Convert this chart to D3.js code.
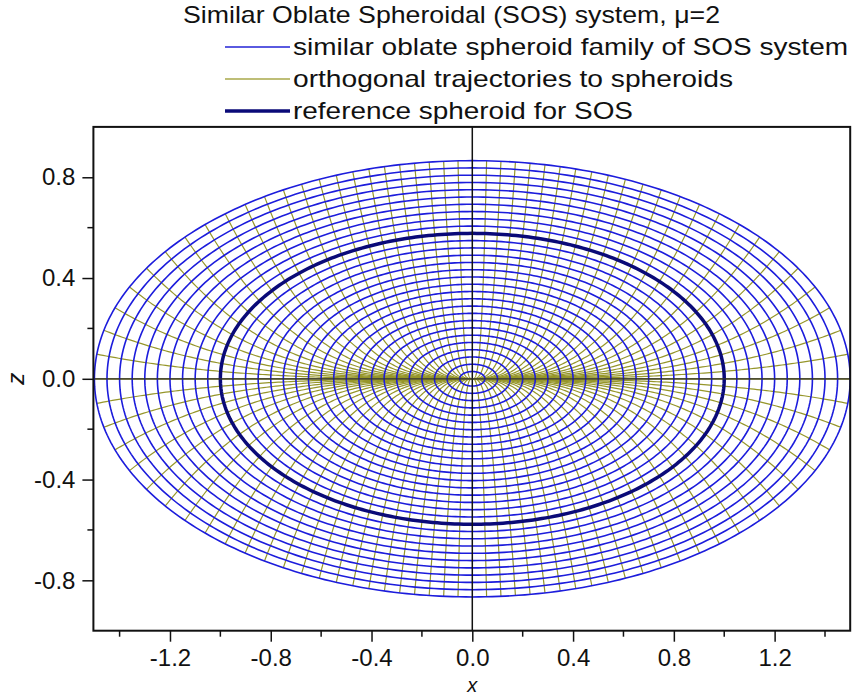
<!DOCTYPE html>
<html>
<head>
<meta charset="utf-8">
<script src="https://cdn.jsdelivr.net/npm/d3@7"></script>
<style>
  body { margin: 0; background: #fff; }
  text { font-family: "Liberation Sans", Arial, sans-serif; fill: #111; }
</style>
</head>
<body>
<div id="vis"></div>
<script>
// SOS system parameter
var mu = 2;

// semi-axes (in x) of the similar oblate spheroids
var spheroidQ = [0.05, 0.10, 0.15, 0.20, 0.25, 0.30, 0.35, 0.40, 0.45, 0.50,
                 0.55, 0.60, 0.65, 0.70, 0.75, 0.80, 0.85, 0.90, 0.95, 1.00,
                 1.05, 1.10, 1.15, 1.20, 1.25, 1.30, 1.35, 1.40, 1.45, 1.50];
var referenceQ = 1.0;

// polar angle (deg) where each orthogonal trajectory meets the outer spheroid
var trajAngles = [0, 3.75, 7.5, 11.25, 15, 18.75, 22.5, 26.25, 30, 33.75, 37.5, 41.25,
                  45, 48.75, 52.5, 56.25, 60, 63.75, 67.5, 71.25, 75, 78.75, 82.5, 86.25];

var xTicks = [-1.2, -0.8, -0.4, 0.0, 0.4, 0.8, 1.2];
var xMinor = [-1.4, -1.0, -0.6, -0.2, 0.2, 0.6, 1.0, 1.4];
var zTicks = [-0.8, -0.4, 0.0, 0.4, 0.8];
var zMinor = [-0.6, -0.2, 0.2, 0.6];

var titleText = "Similar Oblate Spheroidal (SOS) system, \u03bc=2";
var legendItems = [
  {label: "similar oblate spheroid family of SOS system", color: "#2323d6", w: 1.5, len: 555},
  {label: "orthogonal trajectories to spheroids", color: "#a8a84a", w: 1.5, len: 440},
  {label: "reference spheroid for SOS", color: "#0a0a78", w: 3.5, len: 340}
];

var W = 854, H = 698;
var x = d3.scaleLinear().domain([-1.5, 1.5]).range([94.4, 850.2]);
var z = d3.scaleLinear().domain([-1, 1]).range([630.7, 126.9]);

var svg = d3.select("#vis").append("svg")
    .attr("width", W).attr("height", H);

var k = Math.sqrt(1 + mu); // z semi-axis = q / k

var line = d3.line().x(function(d) { return x(d[0]); }).y(function(d) { return z(d[1]); });

function ellipsePts(q) {
  var pts = [];
  for (var i = 0; i <= 360; i++) {
    var t = i * Math.PI / 180;
    pts.push([q * Math.cos(t), q / k * Math.sin(t)]);
  }
  return pts;
}

// orthogonal trajectories: z = C x^(1+mu), from origin to the outer spheroid
var qMax = d3.max(spheroidQ);
var trajPaths = [];
trajAngles.forEach(function(a) {
  var th = a * Math.PI / 180;
  var r = qMax / Math.sqrt(Math.cos(th) * Math.cos(th) + (1 + mu) * Math.sin(th) * Math.sin(th));
  var x0 = r * Math.cos(th), z0 = r * Math.sin(th);
  var C = z0 / Math.pow(x0, 1 + mu);
  [[1, 1], [-1, 1], [1, -1], [-1, -1]].forEach(function(s) {
    var pts = [];
    for (var i = 0; i <= 120; i++) {
      var xx = x0 * i / 120;
      pts.push([s[0] * xx, s[1] * C * Math.pow(xx, 1 + mu)]);
    }
    trajPaths.push(pts);
  });
});

var plot = svg.append("g");

plot.selectAll(".traj").data(trajPaths).enter().append("path")
    .attr("class", "traj")
    .attr("d", line)
    .attr("fill", "none")
    .attr("stroke", "#96962a")
    .attr("stroke-width", 1.2);

plot.selectAll(".sph").data(spheroidQ.filter(function(q) { return q != referenceQ; }))
  .enter().append("path")
    .attr("class", "sph")
    .attr("d", function(q) { return line(ellipsePts(q)); })
    .attr("fill", "none")
    .attr("stroke", "#1c1cdc")
    .attr("stroke-width", 1.6);

plot.append("path")
    .attr("d", line(ellipsePts(referenceQ)))
    .attr("fill", "none")
    .attr("stroke", "#0a0a78")
    .attr("stroke-width", 3.5);

// zero lines
svg.append("line").attr("x1", x(0)).attr("x2", x(0)).attr("y1", z(1)).attr("y2", z(-1))
    .attr("stroke", "#111").attr("stroke-width", 1.5);
svg.append("line").attr("x1", x(-1.5)).attr("x2", x(1.5)).attr("y1", z(0)).attr("y2", z(0))
    .attr("stroke", "#333").attr("stroke-width", 1.2);

// frame
svg.append("rect")
    .attr("x", x(-1.5) - 1).attr("y", z(1))
    .attr("width", x(1.5) - x(-1.5) + 1).attr("height", z(-1) - z(1))
    .attr("fill", "none").attr("stroke", "#111").attr("stroke-width", 2);

var fmt = function(d) { return d3.format(".1f")(d).replace("\u2212", "-"); };

// axes
var xAxis = d3.axisBottom(x).tickValues(xTicks).tickSize(11).tickSizeOuter(0).tickFormat(fmt);
var gx = svg.append("g").attr("transform", "translate(0," + z(-1) + ")").call(xAxis);
gx.attr("font-size", null).attr("font-family", null);
gx.select(".domain").remove();
gx.selectAll("line").attr("stroke", "#111").attr("stroke-width", 1.5);
gx.selectAll("text").style("font-size", "24px").attr("dy", "0.9em").attr("fill", "#111");
gx.selectAll(".minor").data(xMinor).enter().append("line")
    .attr("x1", function(d) { return x(d); }).attr("x2", function(d) { return x(d); })
    .attr("y1", 0).attr("y2", 6).attr("stroke", "#111").attr("stroke-width", 1.5);

var zAxis = d3.axisLeft(z).tickValues(zTicks).tickSize(11).tickSizeOuter(0).tickFormat(fmt);
var gz = svg.append("g").attr("transform", "translate(" + (x(-1.5) - 1) + ",0)").call(zAxis);
gz.attr("font-size", null).attr("font-family", null);
gz.select(".domain").remove();
gz.selectAll("line").attr("stroke", "#111").attr("stroke-width", 1.5);
gz.selectAll("text").style("font-size", "24px").attr("x", -18).attr("fill", "#111");
gz.selectAll(".minor").data(zMinor).enter().append("line")
    .attr("y1", function(d) { return z(d); }).attr("y2", function(d) { return z(d); })
    .attr("x1", 0).attr("x2", -6).attr("stroke", "#111").attr("stroke-width", 1.5);

// axis titles
svg.append("text").attr("x", x(0)).attr("y", 692).attr("text-anchor", "middle")
    .style("font-size", "20px").attr("font-style", "italic").text("x");
svg.append("text").attr("transform", "translate(24," + z(0) + ") rotate(-90)")
    .attr("text-anchor", "middle").style("font-size", "24px").attr("font-style", "italic").text("z");

// title and legend
svg.append("text").attr("x", 183).attr("y", 23).style("font-size", "24px")
    .attr("textLength", 537).attr("lengthAdjust", "spacingAndGlyphs").text(titleText);

var lg = svg.selectAll(".lg").data(legendItems).enter().append("g")
    .attr("transform", function(d, i) { return "translate(0," + (47 + i * 32) + ")"; });
lg.append("line").attr("x1", 225).attr("x2", 290).attr("y1", 0).attr("y2", 0)
    .attr("stroke", function(d) { return d.color; })
    .attr("stroke-width", function(d) { return d.w; });
lg.append("text").attr("x", 293).attr("y", 8).style("font-size", "24px")
    .attr("textLength", function(d) { return d.len; }).attr("lengthAdjust", "spacingAndGlyphs")
    .text(function(d) { return d.label; });
</script>
</body>
</html>
